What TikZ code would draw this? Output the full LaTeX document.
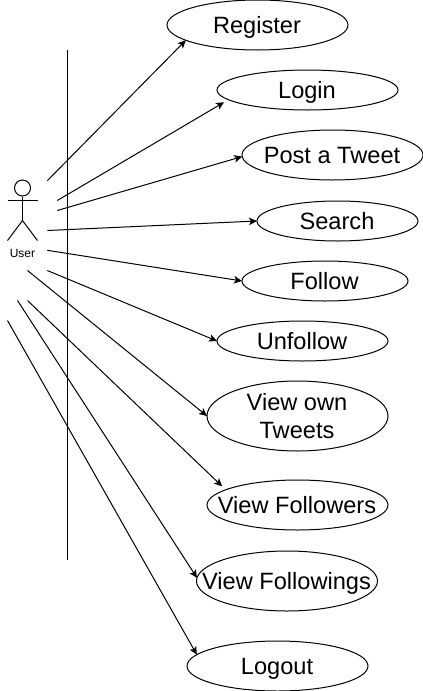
\documentclass[tikz,border=0pt]{standalone}
\usepackage{fontspec}
\setmainfont{Liberation Sans}
\usetikzlibrary{arrows.meta, shapes.geometric}

\tikzset{
    ucbase/.style={draw, ellipse, inner sep=0pt, outer sep=0pt, minimum width=181pt, minimum height=50pt},
    usecase/.style={ucbase, label={[text height=17pt, text depth=0pt]center:#1}},
    every label/.style={align=center, inner sep=0pt, xshift=-.5pt, font=\fontsize{23.6}{27.7}\selectfont},
    assoc/.style={-{Stealth[length=8pt, width=7.5pt, inset=2pt]}, line width=1pt},
    actor/.style={line width=1pt}
}

\begin{document}
\begin{tikzpicture}[x=1pt, y=-1pt, line width=1pt]
    \useasboundingbox (0, 0) rectangle (423, 691);

    \node (register) [usecase=Register] at (257.5, 25) {};
    \node (login) [usecase=Login, minimum height=40pt] at (307.5, 90) {};
    \node (post) [usecase=Post a Tweet] at (332.5, 155) {};
    \node (search) [usecase=Search, minimum width=161pt, minimum height=40pt] at (337.5, 221) {};
    \node (follow) [usecase=Follow, minimum width=166pt, minimum height=40pt] at (325, 281) {};
    \node (unfollow) [usecase=Unfollow, minimum width=171pt, minimum height=40pt] at (302.5, 341) {};
    \node (viewown) [ucbase, label={center:View own\\Tweets}, minimum height=70pt] at (297.5, 416) {};
    \node (viewfollowers) [usecase=View Followers] at (297.5, 505) {};
    \node (viewfollowings) [usecase=View Followings, minimum height=60pt] at (287, 581) {};
    \node (logout) [usecase=Logout] at (277.5, 666) {};

    \node (head) [draw, actor, circle, inner sep=0pt, minimum size=16pt] at (22.5, 188) {};
    \node (user) [font=\fontsize{12}{14}\selectfont, inner sep=0pt] at (22.5, 253) {User};
    \coordinate (hip) at (22.5, 220.5);
    \coordinate (armL) at (7.5, 200.5);
    \coordinate (armR) at (37.5, 200.5);
    \coordinate (legL) at (7.5, 240.5);
    \coordinate (legR) at (37.5, 240.5);
    \draw [actor] (head) -- (hip);
    \draw [actor] (armL) -- (armR);
    \draw [actor] (legL) -- (hip) -- (legR);

    \coordinate (top) at (67.5, 50);
    \coordinate (bottom) at (67.5, 560);
    \draw [actor] (top) -- (bottom);

    \coordinate (a1) at (47.3, 180.7);
    \coordinate (a2) at (57.3, 200.5);
    \coordinate (a3) at (57.3, 210.5);
    \coordinate (a4) at (47.3, 230.5);
    \coordinate (a5) at (47.3, 250.3);
    \coordinate (a6) at (47.3, 270.5);
    \coordinate (a7) at (27.5, 270.5);
    \coordinate (a8) at (27.5, 300.5);
    \coordinate (a9) at (17.5, 300.5);
    \coordinate (a10) at (7.5, 320.5);

    \draw [assoc] (a1) -- (register.192.7);
    \draw [assoc, shorten >=5pt] (a2) -- (login.187.4);
    \draw [assoc] (a3) -- (post.181);
    \draw [assoc] (a4) -- (search.west);
    \draw [assoc] (a5) -- (follow.west);
    \draw [assoc] (a6) -- (unfollow.west);
    \draw [assoc] (a7) -- (viewown.west);
    \draw [assoc, shorten >=5pt] (a8) -- (viewfollowers.168.3);
    \draw [assoc] (a9) -- (viewfollowings.178.7);
    \draw [assoc] (a10) -- (logout.172);
\end{tikzpicture}
\end{document}
